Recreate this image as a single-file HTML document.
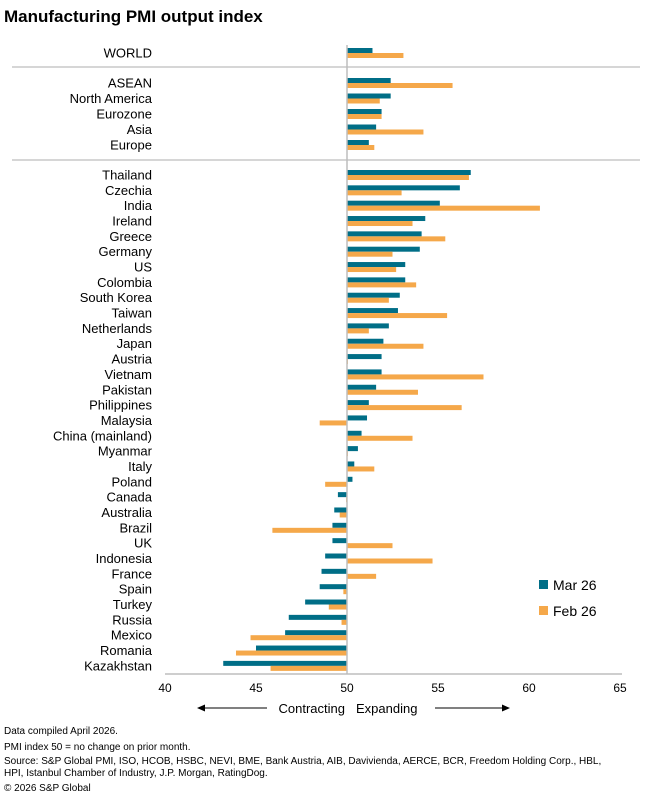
<!DOCTYPE html>
<html><head><meta charset="utf-8"><style>
body{margin:0;background:#fff;font-family:"Liberation Sans",Arial,sans-serif;}
svg text{font-family:"Liberation Sans",Arial,sans-serif;}
</style></head><body>
<svg id="chart" width="664" height="793" xmlns="http://www.w3.org/2000/svg">
<text x="4" y="22" font-size="17" font-weight="bold" fill="#000">Manufacturing PMI output index</text>
<line x1="12" x2="640" y1="67" y2="67" stroke="#c8c8c8" stroke-width="1.5"/>
<line x1="12" x2="640" y1="160" y2="160" stroke="#c8c8c8" stroke-width="1.5"/>
<g id="bars"></g>
<g id="axis"></g>
<g>
<rect x="539" y="580" width="9" height="9" fill="#006e87"/>
<text x="553" y="590" font-size="14">Mar 26</text>
<rect x="539" y="606" width="9" height="9" fill="#f5a84a"/>
<text x="553" y="616" font-size="14">Feb 26</text>
</g>
<g>
<line x1="203" x2="267" y1="708" y2="708" stroke="#000" stroke-width="1"/>
<polygon points="197,708 205,704.5 205,711.5" fill="#000"/>
<text x="345" y="713" font-size="13" text-anchor="end">Contracting</text>
<text x="356" y="713" font-size="13">Expanding</text>
<line x1="435" x2="503" y1="708" y2="708" stroke="#000" stroke-width="1"/>
<polygon points="510,708 502,704.5 502,711.5" fill="#000"/>
</g>
<g font-size="10" fill="#000">
<text x="4" y="734">Data compiled April 2026.</text>
<text x="4" y="750">PMI index 50 = no change on prior month.</text>
<text x="4" y="764">Source: S&amp;P Global PMI, ISO, HCOB, HSBC, NEVI, BME, Bank Austria, AIB, Davivienda, AERCE, BCR, Freedom Holding Corp., HBL,</text>
<text x="4" y="776">HPI, Istanbul Chamber of Industry, J.P. Morgan, RatingDog.</text>
<text x="4" y="791">© 2026 S&amp;P Global</text>
</g>
</svg>
<script>
const categories=["WORLD","ASEAN","North America","Eurozone","Asia","Europe","Thailand","Czechia","India","Ireland","Greece","Germany","US","Colombia","South Korea","Taiwan","Netherlands","Japan","Austria","Vietnam","Pakistan","Philippines","Malaysia","China (mainland)","Myanmar","Italy","Poland","Canada","Australia","Brazil","UK","Indonesia","France","Spain","Turkey","Russia","Mexico","Romania","Kazakhstan"];
const marValues=[51.4,52.4,52.4,51.9,51.6,51.2,56.8,56.2,55.1,54.3,54.1,54.0,53.2,53.2,52.9,52.8,52.3,52.0,51.9,51.9,51.6,51.2,51.1,50.8,50.6,50.4,50.3,49.5,49.3,49.2,49.2,48.8,48.6,48.5,47.7,46.8,46.6,45.0,43.2];
const febValues=[53.1,55.8,51.8,51.9,54.2,51.5,56.7,53.0,60.6,53.6,55.4,52.5,52.7,53.8,52.3,55.5,51.2,54.2,50.05,57.5,53.9,56.3,48.5,53.6,50.05,51.5,48.8,49.95,49.6,45.9,52.5,54.7,51.6,49.8,49.0,49.7,44.7,43.9,45.8];
const tickValues=[40,45,50,55,60,65];
const NS="http://www.w3.org/2000/svg";
const x=v=>165+(v-40)*18.2;
function rowY(i){ if(i===0) return 53; if(i<=5) return 83+(i-1)*15.5; return 175+(i-6)*15.34; }
const bars=document.getElementById('bars');
function mk(t,a,p){const e=document.createElementNS(NS,t);for(const k in a)e.setAttribute(k,a[k]);p.appendChild(e);return e;}
categories.forEach((c,i)=>{
  const y=rowY(i);
  const lab=mk('text',{x:152,y:y+4.5,'font-size':13,'text-anchor':'end'},bars);
  lab.textContent=c;
  
  
  const m=marValues[i], f=febValues[i];
  const r1=mk('rect',{x:Math.min(x(m),x(50)),y:y-5,width:Math.abs(x(m)-x(50)),height:5,fill:'#006e87'},bars);
  
  
  const r2=mk('rect',{x:Math.min(x(f),x(50)),y:y,width:Math.abs(x(f)-x(50)),height:5,fill:'#f5a84a'},bars);
  
  
});
const ax=document.getElementById('axis');
const vl=mk('line',{x1:x(50),x2:x(50),y1:45,y2:674,stroke:'#bdbdbd','stroke-width':1.5},ax);


const bl=mk('line',{x1:x(40),x2:x(65)+2,y1:674,y2:674,stroke:'#bdbdbd','stroke-width':1.5},ax);


tickValues.forEach(v=>{
  const t=mk('text',{x:x(v),y:692,'font-size':12,'text-anchor':'middle'},ax);
  t.textContent=v;
  
  
});
</script>
</body></html>
